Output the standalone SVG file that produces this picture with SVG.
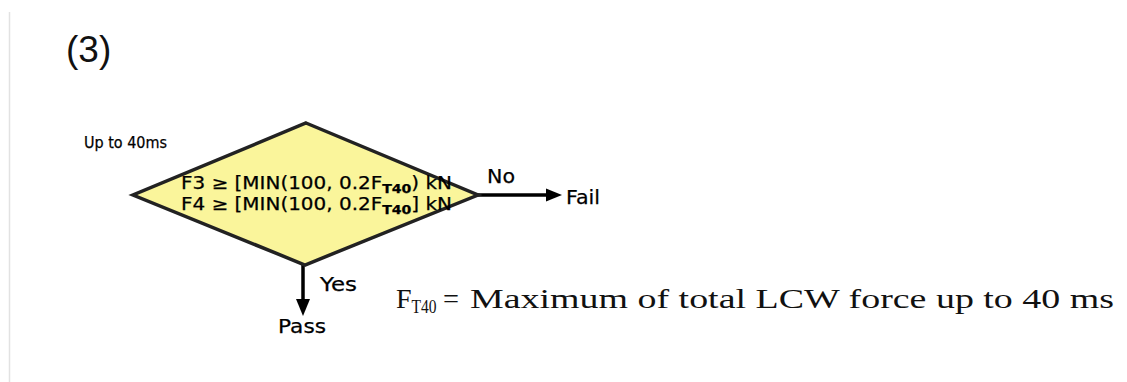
<svg xmlns="http://www.w3.org/2000/svg" width="1127" height="382" viewBox="0 0 1127 382">
<defs>
<style>
.lbl{font-family:"DejaVu Sans","Liberation Sans",sans-serif;fill:#000;stroke:#000;stroke-width:0.25}
.serif{font-family:"Liberation Serif","DejaVu Serif",serif;fill:#111}
.conn{stroke:#000;stroke-width:3.5;fill:none}
.head{fill:#000}
</style>
</defs>
<rect x="0" y="0" width="1127" height="382" fill="#fff"/>
<line x1="9.5" y1="12" x2="9.5" y2="382" stroke="#e2e2e2" stroke-width="1.5"/>
<text x="66" y="62" font-family="Liberation Sans, Arial, sans-serif" font-size="37" fill="#111">(3)</text>
<g id="connectors">
<line class="conn" x1="478" y1="195" x2="549" y2="195"/>
<polygon class="head" points="546,188.5 562,195 546,201.5"/>
<line class="conn" x1="303" y1="265" x2="303" y2="302"/>
<polygon class="head" points="296,299 310,299 303,316"/>
</g>
<g id="decision">
<polygon points="306,123 478,195 305,265 133,195" fill="#FAF59B" stroke="#222" stroke-width="3.5" stroke-linejoin="miter"/>
<text class="lbl" x="84" y="148" font-size="16" textLength="83" lengthAdjust="spacingAndGlyphs">Up to 40ms</text>
<text class="lbl" x="181" y="188.5" font-size="17" textLength="271" lengthAdjust="spacingAndGlyphs">F3 ≥ [MIN(100, 0.2F<tspan font-size="12" dy="4" font-weight="bold">T40</tspan><tspan dy="-4">) kN</tspan></text>
<text class="lbl" x="181" y="209.5" font-size="17" textLength="271" lengthAdjust="spacingAndGlyphs">F4 ≥ [MIN(100, 0.2F<tspan font-size="12" dy="4" font-weight="bold">T40</tspan><tspan dy="-4">] kN</tspan></text>
</g>
<g id="fail">
<text class="lbl" x="487" y="183" font-size="20" textLength="28" lengthAdjust="spacingAndGlyphs">No</text>
<text class="lbl" x="566" y="204" font-size="20" textLength="34" lengthAdjust="spacingAndGlyphs">Fail</text>
</g>
<g id="pass">
<text class="lbl" x="320" y="291" font-size="20" textLength="37" lengthAdjust="spacingAndGlyphs">Yes</text>
<text class="lbl" x="278" y="333" font-size="20" textLength="48" lengthAdjust="spacingAndGlyphs">Pass</text>
</g>
<g id="note">
<text class="serif" x="396" y="308" font-size="28">F<tspan font-size="18" dy="5" textLength="25" lengthAdjust="spacingAndGlyphs">T40</tspan><tspan dy="-5" x="443" textLength="16" lengthAdjust="spacingAndGlyphs">=</tspan></text>
<text class="serif" x="470" y="308" font-size="28" textLength="644" lengthAdjust="spacingAndGlyphs">Maximum of total LCW force up to 40 ms</text>
</g>
</svg>
